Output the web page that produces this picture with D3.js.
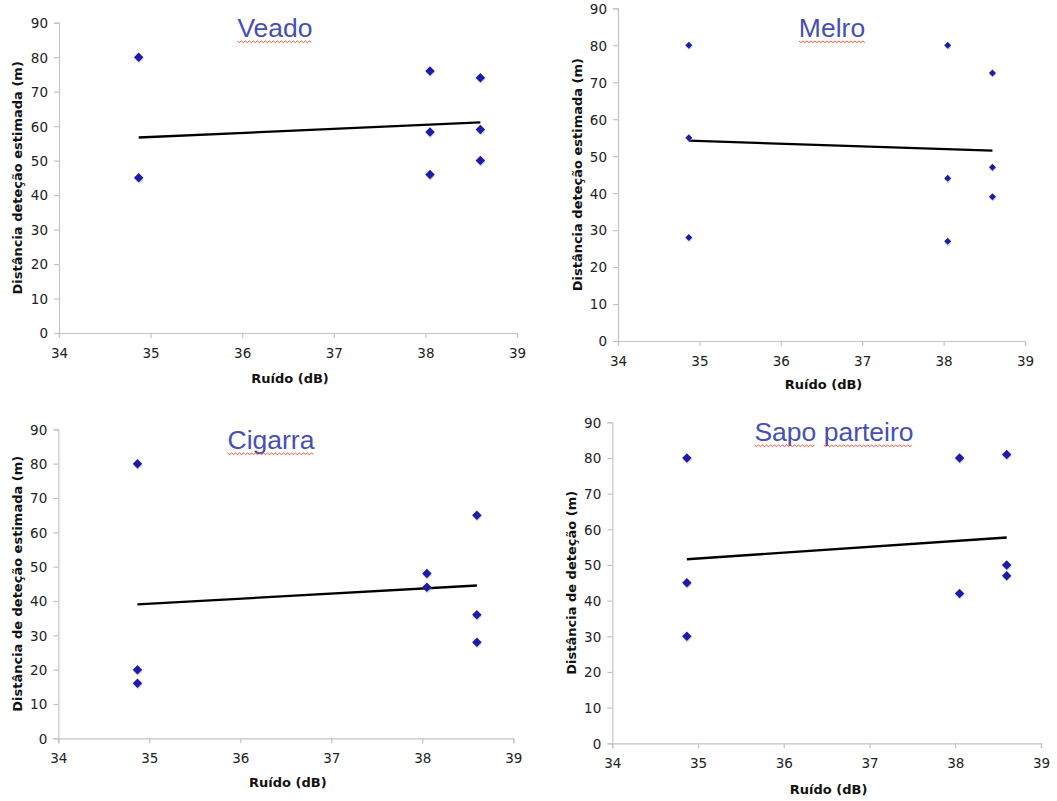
<!DOCTYPE html>
<html>
<head>
<meta charset="utf-8">
<script src="https://cdn.jsdelivr.net/npm/d3@7"></script>
<style>
  body { margin: 0; background: #fff; }
  .tick text { font-family: "DejaVu Sans", Verdana, sans-serif; font-size: 13.5px; fill: #222; }
  .axis-title { font-family: "DejaVu Sans", Verdana, sans-serif; font-size: 13px; font-weight: bold; fill: #111; }
  .chart-title { font-family: "Liberation Sans", Arial, sans-serif; font-size: 26.5px; fill: #4650b4; }
</style>
</head>
<body>
<svg id="chart" width="1057" height="801"></svg>
<script>
// data
const xTicks = [34, 35, 36, 37, 38, 39];
const yTicks = [0, 10, 20, 30, 40, 50, 60, 70, 80, 90];
const xLabel = "Ruído (dB)";

const veadoX = [34.87, 34.87, 38.05, 38.05, 38.05, 38.6, 38.6, 38.6];
const veadoY = [80, 45, 76, 58.3, 46, 74, 59, 50];
const veadoTrend = [56.7, 61.1];

const melroX = [34.87, 34.87, 34.87, 38.05, 38.05, 38.05, 38.6, 38.6, 38.6];
const melroY = [80, 55, 28, 80, 44, 27, 72.5, 47, 39];
const melroTrend = [54.2, 51.5];

const cigarraX = [34.87, 34.87, 34.87, 38.05, 38.05, 38.6, 38.6, 38.6];
const cigarraY = [80, 20, 16, 48, 44, 65, 36, 28];
const cigarraTrend = [39.0, 44.5];

const sapoX = [34.87, 34.87, 34.87, 38.05, 38.05, 38.6, 38.6, 38.6];
const sapoY = [80, 45, 30, 80, 42, 81, 50, 47];
const sapoTrend = [51.6, 57.7];

const trendX = [34.87, 38.6];

const panels = [
  {title: "Veado", yLabel: "Distância deteção estimada (m)", xs: veadoX, ys: veadoY, trend: veadoTrend,
   left: 59, right: 517, top: 22.7, bottom: 333, yTitleX: 17, xTitleY: 378, titleX: 275, titleY: 37, mark: 9.5},
  {title: "Melro", yLabel: "Distância deteção estimada (m)", xs: melroX, ys: melroY, trend: melroTrend,
   left: 618, right: 1025, top: 8.3, bottom: 341, yTitleX: 577, xTitleY: 384, titleX: 832, titleY: 37, mark: 7},
  {title: "Cigarra", yLabel: "Distância de deteção estimada (m)", xs: cigarraX, ys: cigarraY, trend: cigarraTrend,
   left: 58.3, right: 513.3, top: 429.3, bottom: 738.3, yTitleX: 17, xTitleY: 782, titleX: 271, titleY: 449, mark: 9.5},
  {title: "Sapo parteiro", yLabel: "Distância de deteção (m)", xs: sapoX, ys: sapoY, trend: sapoTrend,
   left: 612.3, right: 1041, top: 422.3, bottom: 743.3, yTitleX: 571, xTitleY: 789, titleX: 834, titleY: 441, mark: 9.5}
];

const svg = d3.select("#chart");

function drawPanel(p) {
  const x = d3.scaleLinear().domain([34, 39]).range([p.left, p.right]);
  const y = d3.scaleLinear().domain([0, 90]).range([p.bottom, p.top]);
  const g = svg.append("g");

  const xAxis = g.append("g")
      .attr("transform", `translate(0,${p.bottom})`)
      .call(d3.axisBottom(x).tickValues(xTicks).tickSize(5).tickPadding(10).tickFormat(d3.format("d")));
  const yAxis = g.append("g")
      .attr("transform", `translate(${p.left},0)`)
      .call(d3.axisLeft(y).tickValues(yTicks).tickSize(5).tickPadding(6).tickFormat(d3.format("d")));
  [xAxis, yAxis].forEach(a => {
    a.select(".domain").attr("stroke", "#c4c4c4").attr("stroke-width", 1.2);
    a.selectAll(".tick line").attr("stroke", "#c4c4c4").attr("stroke-width", 1.2);
  });
  yAxis.selectAll(".tick text").attr("dy", "0.36em");

  g.append("text")
      .attr("class", "axis-title")
      .attr("x", (p.left + p.right) / 2 + 2)
      .attr("y", p.xTitleY)
      .attr("dy", "0.35em")
      .attr("text-anchor", "middle")
      .text(xLabel);

  g.append("text")
      .attr("class", "axis-title")
      .attr("transform", `translate(${p.yTitleX},${(p.top + p.bottom) / 2}) rotate(-90)`)
      .attr("dy", "0.35em")
      .attr("text-anchor", "middle")
      .text(p.yLabel);

  // title with spell-check style wavy underline under each word
  const title = g.append("text")
      .attr("class", "chart-title")
      .attr("x", p.titleX)
      .attr("y", p.titleY)
      .attr("text-anchor", "middle")
      .text(p.title);
  const node = title.node();
  const bb = node.getBBox();
  let pos = 0;
  p.title.split(" ").forEach(word => {
    const start = node.getSubStringLength(0, pos);
    const w = node.getSubStringLength(pos, word.length);
    const x0 = bb.x + start, x1 = x0 + w;
    const pts = [];
    let k = 0;
    for (let xx = x0; xx <= x1; xx += 2) {
      pts.push([xx, p.titleY + 4 + (k % 2 ? 1.6 : 0)]);
      k++;
    }
    g.append("path")
        .attr("d", d3.line()(pts))
        .attr("fill", "none")
        .attr("stroke", "#e8402c")
        .attr("stroke-width", 0.9);
    pos += word.length + 1;
  });

  // trend line
  g.append("line")
      .attr("x1", x(trendX[0]))
      .attr("y1", y(p.trend[0]))
      .attr("x2", x(trendX[1]))
      .attr("y2", y(p.trend[1]))
      .attr("stroke", "#000")
      .attr("stroke-width", 2.3);

  const pts = p.xs.map((d, i) => ({x: d, y: p.ys[i]}));
  const side = p.mark / Math.SQRT2;
  const sym = d3.symbol().type(d3.symbolSquare).size(side * side);

  g.selectAll(".shadow")
      .data(pts)
      .enter()
      .append("path")
      .attr("class", "shadow")
      .attr("d", sym)
      .attr("transform", d => `translate(${x(d.x) + 0.5},${y(d.y) + 1.5}) rotate(45)`)
      .attr("fill", "#999")
      .attr("opacity", 0.35);

  g.selectAll(".dot")
      .data(pts)
      .enter()
      .append("path")
      .attr("class", "dot")
      .attr("d", sym)
      .attr("transform", d => `translate(${x(d.x)},${y(d.y)}) rotate(45)`)
      .attr("fill", "#1c1ca8");
}

panels.forEach(drawPanel);
</script>
</body>
</html>
